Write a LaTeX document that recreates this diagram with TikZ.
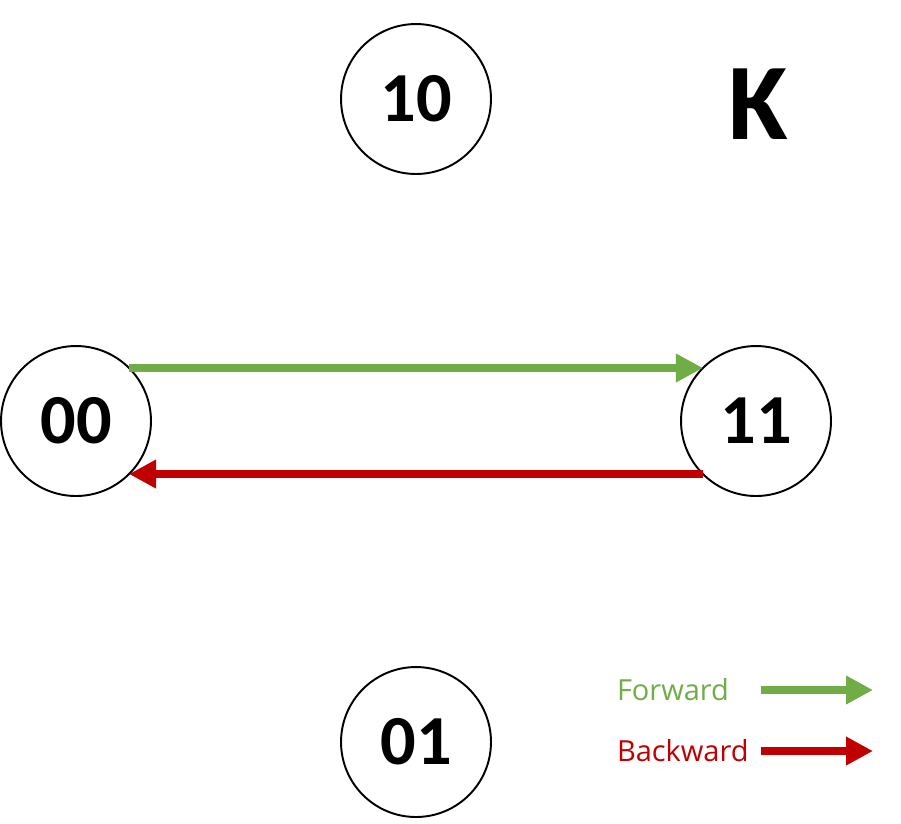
\documentclass[tikz,border=0pt]{standalone}
\usepackage{fontspec}
\setmainfont{Carlito}
\newfontfamily\legendfont{Open Sans}
\usetikzlibrary{arrows.meta}
\definecolor{fwdgreen}{RGB}{112,173,71}
\definecolor{bwdred}{RGB}{192,0,0}
\begin{document}
\begin{tikzpicture}[x=0.02cm,y=-0.02cm,inner sep=0pt,outer sep=0pt,
state/.style={draw,circle,minimum size=3cm,line width=1.1pt,font=\fontsize{40}{40}\selectfont\bfseries},
trans/.style={line width=4.5pt,-{Triangle[length=0.54cm,width=0.54cm]}},
legtext/.style={anchor=west,font=\legendfont\fontsize{16.5}{16.5}\selectfont}]
\useasboundingbox (0,0) rectangle (901,823);
\draw (416,99) node[state] (s10) {10};
\draw (76,421) node[state] (s00) {00};
\draw (756,421) node[state] (s11) {11};
\draw (416,742) node[state] (s01) {01};
\draw (758,104) node[font=\fontsize{62}{62}\selectfont\bfseries] (K) {K};
\draw[trans,fwdgreen] (s00.45) -- (s11.135);
\draw[trans,bwdred] (s11.-135) -- (s00.-45);
% legend
\draw (617,690) node[legtext,text=fwdgreen] (fwdlbl) {Forward};
\draw (617,751) node[legtext,text=bwdred] (bwdlbl) {Backward};
\coordinate (fwdA) at (761,690);
\coordinate (fwdB) at (873,690);
\coordinate (bwdA) at (761,751);
\coordinate (bwdB) at (873,751);
\draw[trans,fwdgreen] (fwdA) -- (fwdB);
\draw[trans,bwdred] (bwdA) -- (bwdB);
\end{tikzpicture}
\end{document}
